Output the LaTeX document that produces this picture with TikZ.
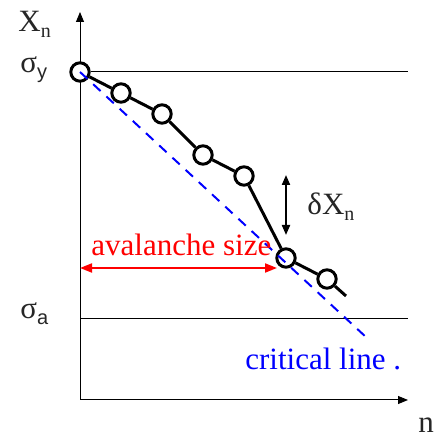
\documentclass[tikz,border=0pt]{standalone}
\usepackage{fontspec}
\setmainfont{Liberation Serif}
\newfontfamily\lblfont{Liberation Serif}
\newfontfamily\idxsans{Liberation Sans}
\usetikzlibrary{arrows.meta}
\newcommand{\lowidx}[1]{\raisebox{-3pt}{\fontsize{10}{12}\selectfont #1}}

\begin{document}
\begin{tikzpicture}[>={Triangle[length=5pt, width=4pt]}, x=0.5pt, y=-0.5pt,
  dot/.style={circle, draw, line width=1.5pt, fill=white, inner sep=0pt, minimum size=9.2pt},
  chain/.style={line width=1.5pt},
  crit/.style={blue, dashed, line width=1pt, dash pattern=on 5pt off 4pt},
  lbl/.style={anchor=base west, inner sep=0pt, font=\lblfont\fontsize{15.5}{18}\selectfont, black!85}]
  \useasboundingbox (0,0) rectangle (440,438);

  % Axes
  \coordinate (origin) at (80,400);
  \coordinate (xend) at (408,400);
  \coordinate (yend) at (80,12);
  \draw[->, line width=0.5pt] (origin) -- (xend);
  \draw[->, line width=0.5pt] (origin) -- (yend);

  % Data points
  \node[dot] (p1) at (80,72) {};
  \node[dot] (p2) at (121,93) {};
  \node[dot] (p3) at (162,114) {};
  \node[dot] (p4) at (203,155) {};
  \node[dot] (p5) at (244,176) {};
  \node[dot] (p6) at (286,258) {};
  \node[dot] (p7) at (327,279) {};
  \coordinate (tail) at (346,296);

  % Levels
  \coordinate (yright) at (408,72);
  \coordinate (aleft) at (80,319);
  \coordinate (aright) at (408,319);
  \draw[line width=0.5pt] (p1.east) -- (yright);
  \draw[line width=0.5pt] (aleft) -- (aright);

  % Chain
  \draw[chain] (p1) -- (p2) -- (p3) -- (p4) -- (p5) -- (p6) -- (p7) -- (tail);

  % Critical line
  \coordinate (critend) at (367,338);
  \draw[crit] (p1.center) -- (critend);

  % Jump and avalanche
  \coordinate (jtop) at (286,175);
  \coordinate (jbot) at (286,235);
  \draw[<->, line width=1pt] (jtop) -- (jbot);
  \coordinate (aval1) at (80,268);
  \coordinate (aval2) at (277,268);
  \draw[<->, red, line width=1pt, >={Triangle[length=6pt, width=4.5pt]}] (aval1) -- (aval2);

  % Labels
  \node[lbl] (xn) at (18,32) {X\lowidx{n}};
  \node[lbl] (sy) at (20,73) {σ\lowidx{\idxsans y}};
  \node[lbl] (sa) at (20,319) {σ\lowidx{\idxsans a}};
  \node[lbl] (nlab) at (418,433) {n};
  \node[lbl] (dx) at (307,215) {δX\lowidx{n}};
  \node[lbl, red] (avlab) at (91,256) {avalanche size};
  \node[lbl, blue] (crlab) at (245,370) {critical line\hspace{0.25em}.};
\end{tikzpicture}
\end{document}
